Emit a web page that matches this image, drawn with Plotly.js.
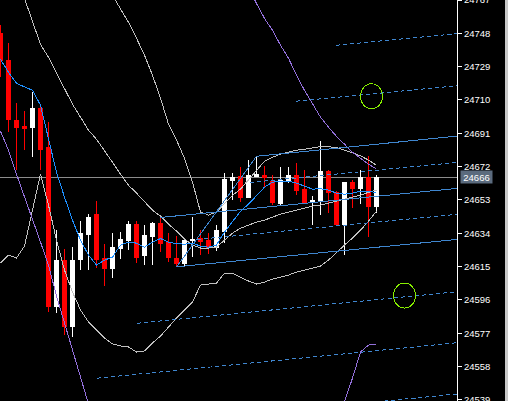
<!DOCTYPE html>
<html>
<head>
<meta charset="utf-8">
<script src="https://cdn.plot.ly/plotly-3.0.1.min.js"></script>
<style>
html,body{margin:0;padding:0;background:#000;overflow:hidden}
#chart{width:508px;height:401px}
#chart path{shape-rendering:crispEdges}
</style>
</head>
<body>
<div id="chart"></div>
<script>
// ---- candle data (bar index 0..47) ----
const openP  = [24748.0,24732.6,24698.5,24695.0,24694.5,24705.3,24683.1,24592.0,24618.7,24581.1,24619.3,24633.5,24644.9,24619.9,24614.2,24625.6,24630.1,24639.2,24621.6,24632.4,24639.8,24629.0,24619.9,24617.0,24629.8,24631.3,24630.1,24626.1,24635.3,24664.3,24666.3,24654.6,24666.6,24667.1,24663.7,24651.2,24664.3,24667.1,24659.2,24651.7,24652.3,24669.4,24657.4,24639.2,24663.2,24659.7,24666.0,24649.5];
const highP  = [24752.6,24742.3,24708.1,24703.6,24714.4,24705.9,24697.3,24635.8,24625.0,24626.1,24640.9,24644.9,24652.3,24627.8,24634.1,24634.7,24640.9,24640.9,24638.7,24640.4,24643.2,24634.1,24632.4,24631.3,24643.2,24635.8,24634.1,24638.7,24668.3,24668.3,24671.7,24675.7,24677.4,24672.3,24667.1,24671.7,24671.7,24674.0,24670.0,24655.2,24686.5,24670.0,24658.0,24663.2,24664.3,24670.0,24677.9,24667.1];
const lowP   = [24722.9,24691.6,24670.0,24681.4,24677.4,24670.0,24589.1,24588.5,24576.0,24574.9,24613.0,24613.0,24614.2,24603.9,24608.5,24619.3,24624.4,24617.0,24615.9,24615.9,24623.3,24617.6,24614.7,24614.7,24620.4,24621.6,24622.1,24623.9,24628.4,24652.9,24651.7,24654.0,24666.0,24660.3,24650.0,24650.0,24662.6,24655.7,24651.2,24638.7,24644.3,24645.5,24638.7,24621.6,24648.3,24650.6,24631.8,24645.5];
const closeP = [24732.6,24699.0,24694.5,24693.9,24705.3,24681.9,24592.0,24618.7,24581.1,24618.7,24634.1,24643.2,24619.3,24614.2,24626.1,24630.7,24639.2,24620.4,24633.0,24639.8,24628.4,24620.4,24617.0,24630.1,24630.4,24629.5,24626.1,24635.8,24664.9,24666.0,24654.6,24667.1,24667.4,24666.0,24651.7,24664.3,24667.1,24658.6,24651.5,24652.6,24669.4,24657.4,24639.2,24663.2,24659.7,24666.0,24649.5,24666.0];

// ---- indicators ----
const maLine = [24733.2,24725.8,24719.5,24717.3,24715.5,24707.0,24687.1,24668.8,24654.6,24641.5,24630.1,24621.6,24615.9,24618.7,24620.4,24627.3,24629.0,24628.4,24626.1,24629.0,24631.0,24629.0,24628.1,24627.8,24628.4,24626.7,24626.1,24627.3,24634.7,24640.9,24646.6,24650.6,24655.7,24660.3,24663.2,24663.4,24663.7,24662.6,24660.9,24659.2,24659.4,24658.6,24656.9,24656.3,24656.9,24658.0,24657.7,24657.4];
const bandUpper = [null,null,null,null,null,null,null,null,null,null,null,null,null,null,24769.6,24762.2,24754.3,24745.2,24735.5,24724.1,24711.0,24696.2,24687.1,24676.8,24663.2,24646.1,24644.4,24646.1,24651.2,24655.7,24659.2,24664.3,24670.0,24675.1,24677.4,24679.1,24680.2,24681.4,24681.9,24682.8,24683.4,24683.4,24682.8,24681.4,24680.0,24678.2,24675.7,24672.8];
const bandMiddle = [null,null,null,24767.9,24754.8,24741.7,24734.3,24725.2,24716.1,24707.6,24700.2,24692.8,24687.6,24681.4,24674.5,24667.7,24661.4,24656.9,24652.3,24647.2,24643.8,24639.2,24635.3,24630.7,24627.3,24625.6,24625.6,24626.1,24630.1,24634.1,24636.9,24638.7,24640.4,24641.5,24643.2,24644.9,24646.1,24647.2,24648.3,24649.5,24650.1,24651.2,24652.3,24653.5,24654.6,24655.7,24657.4,24658.6];
const bandLower = [24617.0,24621.6,24619.9,24626.7,24647.2,24667.7,24650.0,24630.1,24613.0,24600.5,24590.3,24583.4,24578.9,24574.3,24570.9,24569.8,24569.2,24566.3,24566.9,24571.5,24575.4,24580.6,24585.7,24590.3,24594.8,24604.5,24605.1,24605.6,24611.3,24611.3,24609.0,24606.8,24605.1,24606.2,24607.9,24609.0,24610.2,24611.9,24613.0,24614.2,24615.3,24618.7,24623.3,24627.3,24631.3,24635.8,24640.9,24646.6];
const envUpper = [null,null,null,null,null,null,null,null,null,null,null,null,null,null,null,null,null,null,null,null,null,null,null,null,null,null,null,null,null,null,null,24773.6,24765.1,24756.5,24749.7,24741.2,24733.8,24724.1,24715.5,24707.6,24700.2,24694.5,24689.3,24684.8,24680.2,24676.8,24673.4,24670.6];
const envLower = [24692.2,24681.4,24667.7,24655.2,24642.6,24629.0,24615.9,24598.2,24582.9,24567.5,24551.5,24536.7,null,null,null,null,null,null,null,null,null,null,null,null,null,null,null,null,null,null,null,null,null,null,null,null,null,null,null,null,null,null,24521.9,24537.9,24551.5,24566.3,24570.3,24570.9];

// ---- drawn channel objects (bar index, price) ----
const trendX0 = [22.03,19.94,32.0,22.03,41.94,36.94,31.19,24.56,17.03,12.03,37.44];
const trendY0 = [24614.9,24643.0,24677.9,24614.9,24741.2,24709.3,24663.0,24630.5,24582.7,24551.4,24533.7];
const trendX1 = [57.06,57.06,57.06,32.0,57.06,57.06,57.06,57.06,57.06,57.06,57.06];
const trendY1 = [24630.5,24659.6,24689.4,24677.9,24747.8,24718.1,24674.4,24644.8,24600.7,24571.6,24542.4];
const trendDashed = [false,false,false,false,true,true,true,true,true,true,true];

const circleX = [46.375, 50.5];
const circleY = [24712.1, 24598.5];

const currentPrice = 24666;
const tickVals = [24767,24748,24729,24710,24691,24672,24653,24634,24615,24596,24577,24558,24539];

// ---- build ----
const idx = openP.map((_, i) => i);

function segTrace(dashed) {
  const xs = [], ys = [];
  for (let i = 0; i < trendX0.length; i++) {
    if (trendDashed[i] !== dashed) continue;
    xs.push(trendX0[i], trendX1[i], null);
    ys.push(trendY0[i], trendY1[i], null);
  }
  return {type:'scatter', mode:'lines', x:xs, y:ys, hoverinfo:'skip',
    line:{color:'#3f86cf', width:1, dash: dashed ? '4px,3px' : 'solid'}};
}
function lineTrace(arr, color) {
  return {type:'scatter', mode:'lines', x:idx, y:arr, hoverinfo:'skip',
    connectgaps:false, line:{color:color, width:1}};
}

const traces = [
  {type:'candlestick', x:idx, open:openP, high:highP, low:lowP, close:closeP,
   whiskerwidth:0, hoverinfo:'skip',
   increasing:{line:{color:'#ffffff', width:1}, fillcolor:'#ffffff'},
   decreasing:{line:{color:'#ff0000', width:1}, fillcolor:'#ff0000'}},
  lineTrace(bandUpper, '#c0c0c0'),
  lineTrace(bandMiddle, '#c0c0c0'),
  lineTrace(bandLower, '#c0c0c0'),
  lineTrace(envUpper, '#9370db'),
  lineTrace(envLower, '#9370db'),
  segTrace(false),
  segTrace(true),
  lineTrace(maLine, '#1e90ff')
];

const shapes = [
  {type:'line', xref:'paper', x0:0, x1:1, yref:'y', y0:currentPrice, y1:currentPrice,
   line:{color:'#8c8c8c', width:1}, layer:'below'},
  {type:'rect', xref:'paper', x0:1 + 48/457, x1:1 + 52/457, yref:'paper', y0:-0.01, y1:1.01,
   fillcolor:'#c8c8c8', line:{width:0}}
];
circleX.forEach((cx, i) => {
  shapes.push({type:'circle', xref:'x', yref:'y', xsizemode:'pixel', ysizemode:'pixel',
    xanchor:cx, yanchor:circleY[i], x0:-11, x1:11, y0:-12.5, y1:12.5,
    line:{color:'#88f000', width:1}});
});

const layout = {
  width:508, height:401,
  margin:{l:0, r:51, t:0, b:0, pad:0},
  paper_bgcolor:'#000000', plot_bgcolor:'#000000',
  showlegend:false,
  xaxis:{range:[-0.0625, 57.0625], visible:false, rangeslider:{visible:false}, fixedrange:true},
  yaxis:{side:'right', range:[24538.4, 24767.0], tickmode:'array', tickvals:tickVals,
    ticktext:tickVals.map(String), showgrid:false, zeroline:false,
    showline:true, linecolor:'#ffffff', linewidth:1,
    ticks:'outside', ticklen:4, tickcolor:'#ffffff', tickwidth:1,
    ticklabeloverflow:'allow',
    tickfont:{family:'Liberation Sans, Arial, sans-serif', size:9.5, color:'#ffffff'},
    fixedrange:true},
  shapes:shapes,
  annotations:[{xref:'paper', x:1, xanchor:'left', xshift:3, yref:'y', y:currentPrice,
    yanchor:'middle', text:String(currentPrice), showarrow:false,
    bgcolor:'#5b6b7e', borderpad:1, width:29, height:10,
    font:{family:'Liberation Sans, Arial, sans-serif', size:9.5, color:'#ffffff'}}]
};

Plotly.newPlot('chart', traces, layout, {staticPlot:true, displayModeBar:false});
</script>
</body>
</html>
